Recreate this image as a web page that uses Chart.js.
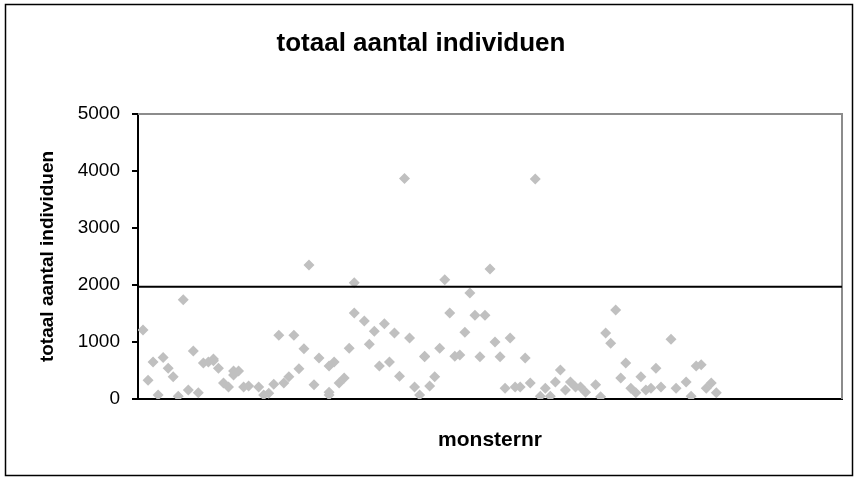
<!DOCTYPE html>
<html>
<head>
<meta charset="utf-8">
<script src="https://cdn.jsdelivr.net/npm/chart.js@4/dist/chart.umd.min.js"></script>
<style>
html,body{margin:0;padding:0;background:#fff;}
#wrap{width:858px;height:479px;}
</style>
</head>
<body>
<div id="wrap"><canvas id="c" width="858" height="479"></canvas></div>
<script>
// monsternr (sample numbers) and total counts
const monsternr = [1,2,3,4,5,6,7,8,9,10,11,12,13,14,15,15,16,17,18,19,19,20,21,22,24,25,26,27,28,29,30,31,32,33,34,35,36,38,38,38,39,40,41,42,43,43,45,46,47,48,49,50,51,52,53,54,55,56,57,57,58,59,60,61,62,63,64,65,66,67,68,69,70,71,72,73,74,75,76,77,78,79,80,81,82,83,84,85,86,87,88,89,91,92,93,94,95,96,97,98,99,100,101,102,103,104,106,107,109,110,111,112,113,114,115];
const totaal = [1210,330,650,70,730,540,390,50,1740,160,840,110,630,650,670,700,540,280,210,420,490,490,210,230,210,70,100,260,1120,280,390,1120,530,880,2350,250,720,580,70,120,650,280,370,890,1510,2040,1370,960,1190,580,1320,650,1160,400,3870,1070,210,70,740,750,230,390,890,2090,1510,750,770,1170,1860,1470,740,1470,2280,1000,740,190,1070,210,210,720,280,3860,50,190,50,300,510,160,300,210,210,120,250,40,1160,980,1560,370,630,190,110,390,160,190,540,210,1050,190,300,50,580,600,190,280,110];
const refLineX = [0, 140];
const refLineY = [1970, 1970];
const yTicks = [0, 1000, 2000, 3000, 4000, 5000];

const FONT = "'Liberation Sans', Arial, sans-serif";

const points = monsternr.map((x, i) => ({x: x, y: totaal[i]}));
const refLine = refLineX.map((x, i) => ({x: x, y: refLineY[i]}));

const framePlugin = {
  id: 'frame',
  beforeDraw(chart) {
    const ctx = chart.ctx;
    ctx.save();
    ctx.fillStyle = '#fff';
    ctx.fillRect(0, 0, chart.width, chart.height);
    ctx.strokeStyle = '#000';
    ctx.lineWidth = 1.5;
    ctx.strokeRect(5.5, 4.5, 847, 471);
    ctx.restore();
  },
  beforeDatasetsDraw(chart) {
    const a = chart.chartArea;
    const ctx = chart.ctx;
    ctx.save();
    ctx.strokeStyle = '#8c8c8c';
    ctx.lineWidth = 2;
    ctx.beginPath();
    ctx.moveTo(a.left, a.top);
    ctx.lineTo(a.right, a.top);
    ctx.lineTo(a.right, a.bottom);
    ctx.stroke();
    ctx.restore();
  }
};

new Chart(document.getElementById('c'), {
  type: 'scatter',
  data: {
    datasets: [
      {
        type: 'line',
        data: refLine,
        borderColor: '#000',
        borderWidth: 2,
        pointRadius: 0,
        fill: false,
        order: 0
      },
      {
        data: points,
        pointStyle: 'rectRot',
        pointRadius: 5.5,
        pointHoverRadius: 5.5,
        backgroundColor: '#c0c0c0',
        borderWidth: 0,
        order: 1
      }
    ]
  },
  options: {
    responsive: false,
    animation: false,
    devicePixelRatio: 1,
    layout: { padding: { left: 0, right: 16, top: 0, bottom: 0 } },
    plugins: {
      legend: { display: false },
      tooltip: { enabled: false },
      title: {
        display: true,
        text: 'totaal aantal individuen',
        color: '#000',
        font: { family: FONT, size: 26, weight: 'bold' },
        padding: { top: 28, bottom: 54.8 }
      }
    },
    scales: {
      x: {
        type: 'linear',
        min: 0,
        max: 140,
        ticks: { display: false },
        grid: { display: false, drawTicks: false },
        border: { display: true, color: '#000', width: 2 },
        title: {
          display: true,
          text: 'monsternr',
          color: '#000',
          font: { family: FONT, size: 21, weight: 'bold' },
          padding: { top: 0, bottom: 26 }
        },
        afterFit(scale) { scale.height = 80; }
      },
      y: {
        type: 'linear',
        min: 0,
        max: 5000,
        afterBuildTicks(scale) { scale.ticks = yTicks.map(v => ({value: v})); },
        ticks: {
          color: '#000',
          font: { family: FONT, size: 19 },
          padding: 12,
          callback: (v) => String(v)
        },
        grid: {
          display: true,
          drawOnChartArea: false,
          drawTicks: true,
          tickLength: 6,
          color: '#000',
          lineWidth: 2
        },
        border: { display: true, color: '#000', width: 2 },
        title: {
          display: true,
          text: 'totaal aantal individuen',
          color: '#000',
          font: { family: FONT, size: 19, weight: 'bold' },
          padding: { top: 36, bottom: 0 }
        },
        afterFit(scale) { scale.width = 138; }
      }
    }
  },
  plugins: [framePlugin]
});
</script>
</body>
</html>
